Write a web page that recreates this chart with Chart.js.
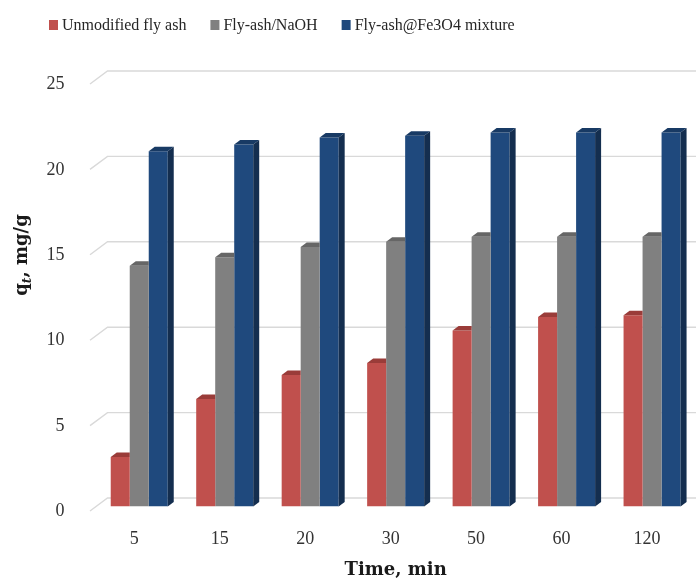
<!DOCTYPE html>
<html>
<head>
<meta charset="utf-8">
<script src="https://cdn.jsdelivr.net/npm/chart.js@4/dist/chart.umd.min.js"></script>
<style>
  html, body { margin: 0; padding: 0; background: #ffffff; }
  #wrap { position: relative; width: 696px; height: 583px; }
</style>
</head>
<body>
<div id="wrap"><canvas id="c"></canvas></div>
<script>
// Adsorption capacity q_t (mg/g) over contact time
const categories = ['5', '15', '20', '30', '50', '60', '120'];
const unmodifiedFlyAsh = [2.9, 6.3, 7.7, 8.4, 10.3, 11.1, 11.2];
const flyAshNaOH = [14.1, 14.6, 15.2, 15.5, 15.8, 15.8, 15.8];
const flyAshFe3O4 = [20.8, 21.2, 21.6, 21.7, 21.9, 21.9, 21.9];
const seriesNames = ['Unmodified fly ash', 'Fly-ash/NaOH', 'Fly-ash@Fe3O4 mixture'];
const yTicks = [0, 5, 10, 15, 20, 25];

// face colours: front, top, side
const palette = [
  { front: '#C0504D', top: '#9A3C39', side: '#8A3330' },
  { front: '#808080', top: '#666666', side: '#585858' },
  { front: '#1F497D', top: '#183A64', side: '#142E4F' }
];

const SERIF = "'Liberation Serif', 'Times New Roman', serif";
const SERIF_BOLD = "'DejaVu Serif', serif";
const DEPTH_X = 6, DEPTH_Y = 4.5;          // bar depth
const WALL_FRONT = { dx: -6.5, dy: 4.5 };   // front edge of floor/axis
const WALL_BACK = { dx: 11, dy: -8.5 };     // back wall

// back-wall gridlines with the slanted left edge
const wallGrid = {
  id: 'wallGrid',
  beforeDatasetsDraw(chart) {
    const { ctx, chartArea, scales } = chart;
    const y = scales.y;
    ctx.save();
    ctx.strokeStyle = '#D9D9D9';
    ctx.lineWidth = 1.4;
    yTicks.forEach(v => {
      const py = y.getPixelForValue(v);
      ctx.beginPath();
      ctx.moveTo(chartArea.left + WALL_FRONT.dx, py + WALL_FRONT.dy);
      ctx.lineTo(chartArea.left + WALL_BACK.dx, py + WALL_BACK.dy);
      ctx.lineTo(chart.width, py + WALL_BACK.dy);
      ctx.stroke();
    });
    ctx.restore();
  }
};

// top and side faces for the columns
const columnFaces = {
  id: 'columnFaces',
  afterDatasetsDraw(chart) {
    const { ctx } = chart;
    const n = chart.data.datasets.length;
    ctx.save();
    chart.data.datasets.forEach((ds, di) => {
      const meta = chart.getDatasetMeta(di);
      const col = palette[di];
      meta.data.forEach(bar => {
        const p = bar.getProps(['x', 'y', 'base', 'width'], true);
        const l = p.x - p.width / 2, r = p.x + p.width / 2;
        const t = p.y, b = p.base;
        const last = di === n - 1;
        // top face
        ctx.fillStyle = col.top;
        ctx.beginPath();
        ctx.moveTo(l, t);
        ctx.lineTo(l + DEPTH_X, t - DEPTH_Y);
        ctx.lineTo(last ? r + DEPTH_X : r, t - DEPTH_Y);
        ctx.lineTo(r, t);
        ctx.closePath();
        ctx.fill();
        // side face (only the outermost column of a group shows it)
        if (last) {
          ctx.fillStyle = col.side;
          ctx.beginPath();
          ctx.moveTo(r, t);
          ctx.lineTo(r + DEPTH_X, t - DEPTH_Y);
          ctx.lineTo(r + DEPTH_X, b - DEPTH_Y);
          ctx.lineTo(r, b);
          ctx.closePath();
          ctx.fill();
        }
      });
    });
    ctx.restore();
  }
};

// legend row and rotated y-axis title with subscript
const annotations = {
  id: 'annotations',
  afterDraw(chart) {
    const { ctx } = chart;
    ctx.save();
    // legend
    ctx.font = '16px ' + SERIF;
    ctx.textBaseline = 'middle';
    let x = 49;
    const yMid = 25;
    chart.data.datasets.forEach((ds, i) => {
      ctx.fillStyle = palette[i].front;
      ctx.fillRect(x, yMid - 5, 9, 10);
      ctx.fillStyle = '#262626';
      ctx.fillText(ds.label, x + 13, yMid + 1);
      x += 13 + ctx.measureText(ds.label).width + 24;
    });
    // y title: q_t, mg/g
    const big = 'bold 18px ' + SERIF_BOLD;
    const sub = 'italic bold 12px ' + SERIF_BOLD;
    ctx.font = big; const wq = ctx.measureText('q').width;
    const rest = ', mg/g'; const wr = ctx.measureText(rest).width;
    ctx.font = sub; const wt = ctx.measureText('t').width;
    const total = wq + wt + wr;
    ctx.translate(21, 255);
    ctx.rotate(-Math.PI / 2);
    ctx.fillStyle = '#1a1a1a';
    ctx.textBaseline = 'alphabetic';
    let cx = -total / 2;
    const base = 6;
    ctx.font = big; ctx.fillText('q', cx, base); cx += wq;
    ctx.font = sub; ctx.fillText('t', cx, base + 4); cx += wt;
    ctx.font = big; ctx.fillText(rest, cx, base);
    ctx.restore();
  }
};

new Chart(document.getElementById('c'), {
  type: 'bar',
  data: {
    labels: categories,
    datasets: [
      { label: seriesNames[0], data: unmodifiedFlyAsh, backgroundColor: palette[0].front },
      { label: seriesNames[1], data: flyAshNaOH, backgroundColor: palette[1].front },
      { label: seriesNames[2], data: flyAshFe3O4, backgroundColor: palette[2].front }
    ]
  },
  options: {
    responsive: true,
    maintainAspectRatio: false,
    animation: false,
    datasets: { bar: { categoryPercentage: 0.667, barPercentage: 1.0, borderWidth: 0 } },
    layout: { padding: { top: 79.5, right: 1.2, left: 0, bottom: 0 } },
    plugins: { legend: { display: false }, tooltip: { enabled: false } },
    scales: {
      x: {
        grid: { display: false },
        border: { display: false },
        ticks: { font: { family: SERIF, size: 18 }, color: '#333333', padding: 14, labelOffset: -5 },
        title: {
          display: true, text: 'Time, min', color: '#1a1a1a',
          font: { family: SERIF_BOLD, size: 18, weight: 'bold' },
          padding: { top: 0, bottom: 2 }
        },
        afterFit(s) { s.height = 76.5; }
      },
      y: {
        min: 0, max: 25,
        grid: { display: false },
        border: { display: false },
        ticks: { stepSize: 5, font: { family: SERIF, size: 18 }, color: '#333333', padding: 24, labelOffset: 5 },
        afterFit(s) { s.width = 96.5; }
      }
    }
  },
  plugins: [wallGrid, columnFaces, annotations]
});
</script>
</body>
</html>
